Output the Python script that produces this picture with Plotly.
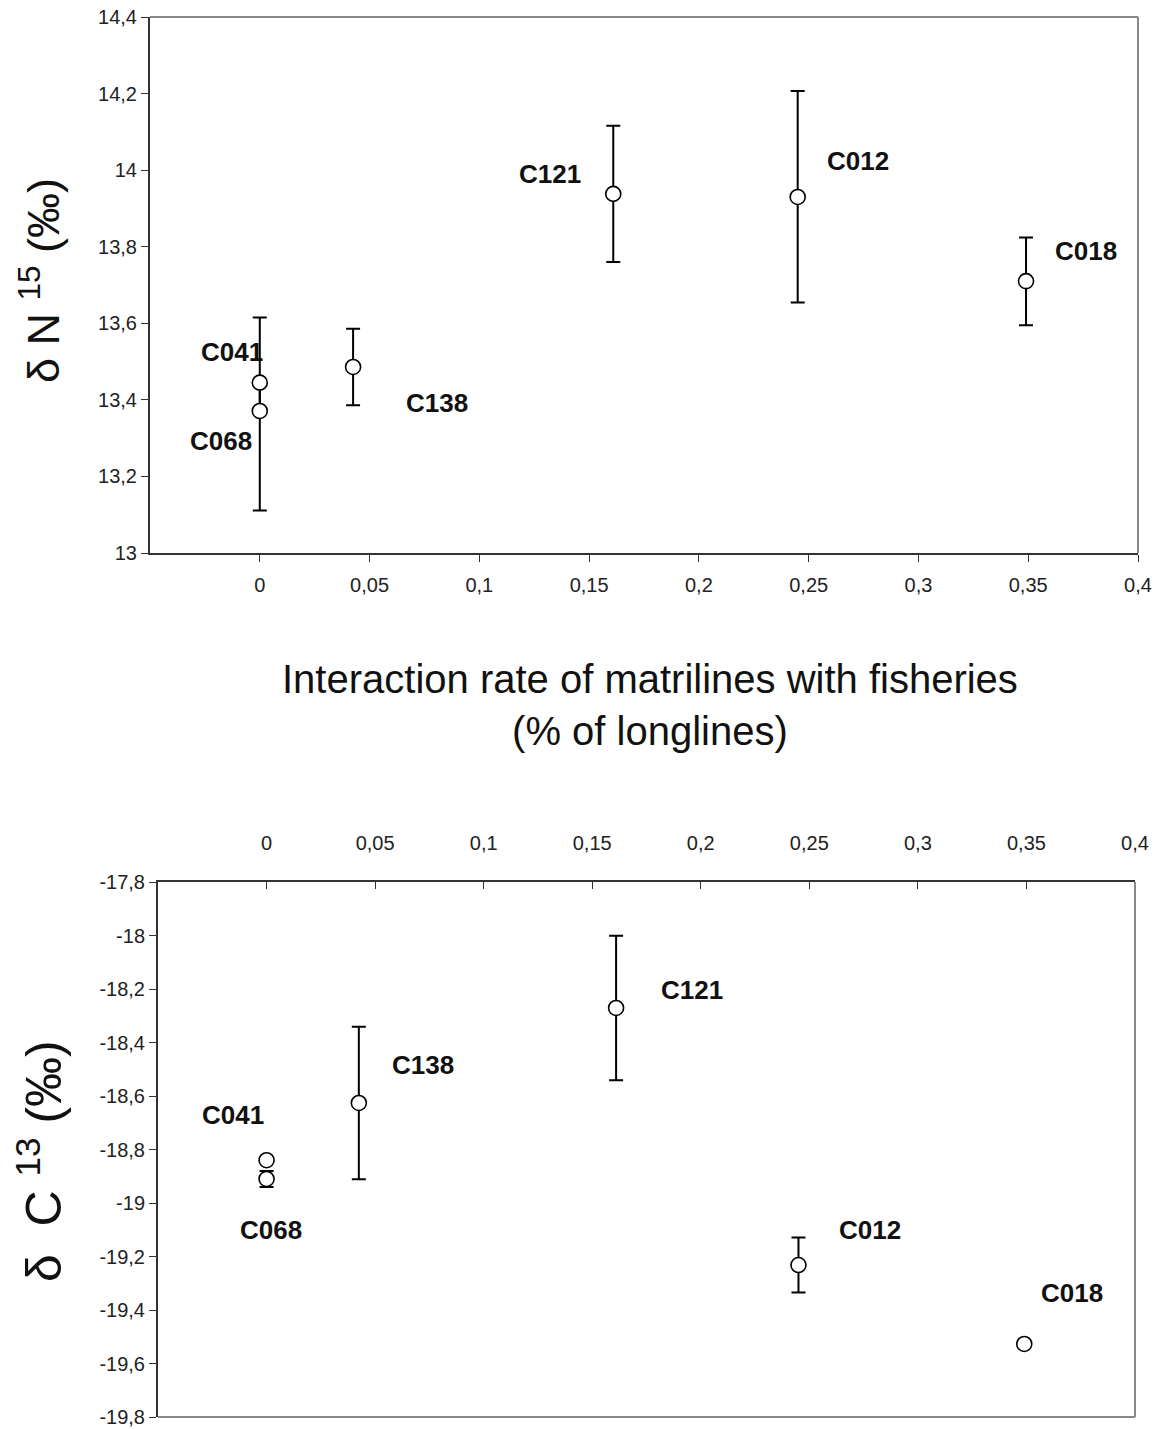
import plotly.graph_objects as go

# ---------------- data ----------------
names = ["C041", "C068", "C138", "C121", "C012", "C018"]
interaction_rate = [0.0, 0.0, 0.0425, 0.161, 0.245, 0.349]

n15_mean = [13.445, 13.371, 13.486, 13.938, 13.930, 13.710]
n15_err_plus = [0.17, 0.07, 0.10, 0.178, 0.277, 0.114]
n15_err_minus = [0.074, 0.26, 0.10, 0.178, 0.276, 0.115]

c13_mean = [-18.84, -18.91, -18.626, -18.271, -19.232, -19.527]
c13_err = [0.0, 0.03, 0.285, 0.27, 0.103, 0.01]

x_ticks = [0, 0.05, 0.1, 0.15, 0.2, 0.25, 0.3, 0.35, 0.4]
x_tick_labels = ["0", "0,05", "0,1", "0,15", "0,2", "0,25", "0,3", "0,35", "0,4"]
n15_ticks = [13, 13.2, 13.4, 13.6, 13.8, 14, 14.2, 14.4]
n15_tick_labels = ["13", "13,2", "13,4", "13,6", "13,8", "14", "14,2", "14,4"]
c13_ticks = [-19.8, -19.6, -19.4, -19.2, -19, -18.8, -18.6, -18.4, -18.2, -18, -17.8]
c13_tick_labels = ["-19,8", "-19,6", "-19,4", "-19,2", "-19", "-18,8", "-18,6",
                   "-18,4", "-18,2", "-18", "-17,8"]

# label pixel offsets (layout, not data)
top_offsets = [(-28, 31), (-39, -30), (84, -36), (-63, 20), (60, 36), (60, 30)]
bot_offsets = [(-34, 45), (4, -51), (64, 38), (76, 18), (72, 35), (48, 51)]

W, H = 1161, 1429
FONT = "Liberation Sans, Arial, sans-serif"

fig = go.Figure()

marker = dict(symbol="circle", size=15, color="white", line=dict(color="black", width=1.6))

fig.add_trace(go.Scatter(
    x=interaction_rate, y=n15_mean, mode="markers", marker=marker,
    error_y=dict(type="data", array=n15_err_plus, arrayminus=n15_err_minus,
                 symmetric=False, color="black", thickness=2, width=7),
    xaxis="x", yaxis="y", showlegend=False, cliponaxis=False))

fig.add_trace(go.Scatter(
    x=interaction_rate, y=c13_mean, mode="markers", marker=marker,
    error_y=dict(type="data", array=c13_err, color="black", thickness=2, width=7),
    xaxis="x2", yaxis="y2", showlegend=False, cliponaxis=False))


def px_x(a, b):
    return [a / W, b / W]


def px_y(top, bottom):
    return [1 - bottom / H, 1 - top / H]


tickfont = dict(family=FONT, size=20, color="#222")
common = dict(showline=True, linecolor="#333", linewidth=2, showgrid=False,
              zeroline=False, tickfont=tickfont, ticklen=7, tickcolor="#333",
              automargin=False)

fig.update_layout(
    width=W, height=H,
    margin=dict(l=0, r=0, t=0, b=0, autoexpand=False),
    paper_bgcolor="white", plot_bgcolor="white",
    font=dict(family=FONT),
    xaxis=dict(domain=px_x(150, 1138), range=[-0.05, 0.4], tickvals=x_ticks,
               ticktext=x_tick_labels, ticks="outside", anchor="y",
               ticklabelstandoff=6, **common),
    yaxis=dict(domain=px_y(17, 553), range=[13, 14.4], tickvals=n15_ticks,
               ticktext=n15_tick_labels, ticks="outside", anchor="x", **common),
    xaxis2=dict(domain=px_x(158, 1135), range=[-0.05, 0.4], tickvals=x_ticks,
                ticktext=x_tick_labels, ticks="inside", side="top", anchor="y2",
                ticklabelstandoff=22, **common),
    yaxis2=dict(domain=px_y(882, 1417), range=[-19.8, -17.8], tickvals=c13_ticks,
                ticktext=c13_tick_labels, ticks="outside", anchor="x2", **common),
)

gray = dict(color="#888", width=2)
fig.add_shape(type="line", xref="x domain", yref="y domain", x0=0, x1=1, y0=1, y1=1, line=gray)
fig.add_shape(type="line", xref="x domain", yref="y domain", x0=1, x1=1, y0=0, y1=1, line=gray)
fig.add_shape(type="line", xref="x2 domain", yref="y2 domain", x0=1, x1=1, y0=0, y1=1, line=gray)
fig.add_shape(type="line", xref="x2 domain", yref="y2 domain", x0=0, x1=1, y0=0, y1=0, line=gray)

lab_font = dict(family=FONT, size=26, color="#111")
for n, xv, yv, (dx, dy) in zip(names, interaction_rate, n15_mean, top_offsets):
    fig.add_annotation(x=xv, y=yv, xref="x", yref="y", text=f"<b>{n}</b>",
                       showarrow=False, xshift=dx, yshift=dy, font=lab_font)
for n, xv, yv, (dx, dy) in zip(names, interaction_rate, c13_mean, bot_offsets):
    fig.add_annotation(x=xv, y=yv, xref="x2", yref="y2", text=f"<b>{n}</b>",
                       showarrow=False, xshift=dx, yshift=dy, font=lab_font)

fig.add_annotation(x=40 / W, y=1 - 281 / H, xref="paper", yref="paper",
                   xanchor="center", yanchor="middle",
                   text="δ N\u00a0<sup>15</sup> (‰)", textangle=-90, showarrow=False,
                   font=dict(family=FONT, size=45, color="#111"))
fig.add_annotation(x=40 / W, y=1 - 1161 / H, xref="paper", yref="paper",
                   xanchor="center", yanchor="middle",
                   text="δ\u00a0\u00a0C\u00a0<sup>13</sup> (‰)", textangle=-90, showarrow=False,
                   font=dict(family=FONT, size=50, color="#111"))
fig.add_annotation(x=650 / W, y=1 - 705 / H, xref="paper", yref="paper",
                   text="Interaction rate of matrilines with fisheries<br>(% of longlines)",
                   showarrow=False, font=dict(family=FONT, size=40, color="#111"))

fig.write_html("out.html", config={"displayModeBar": False},
               post_script="document.body.style.margin='0';document.body.style.overflow='hidden';")
